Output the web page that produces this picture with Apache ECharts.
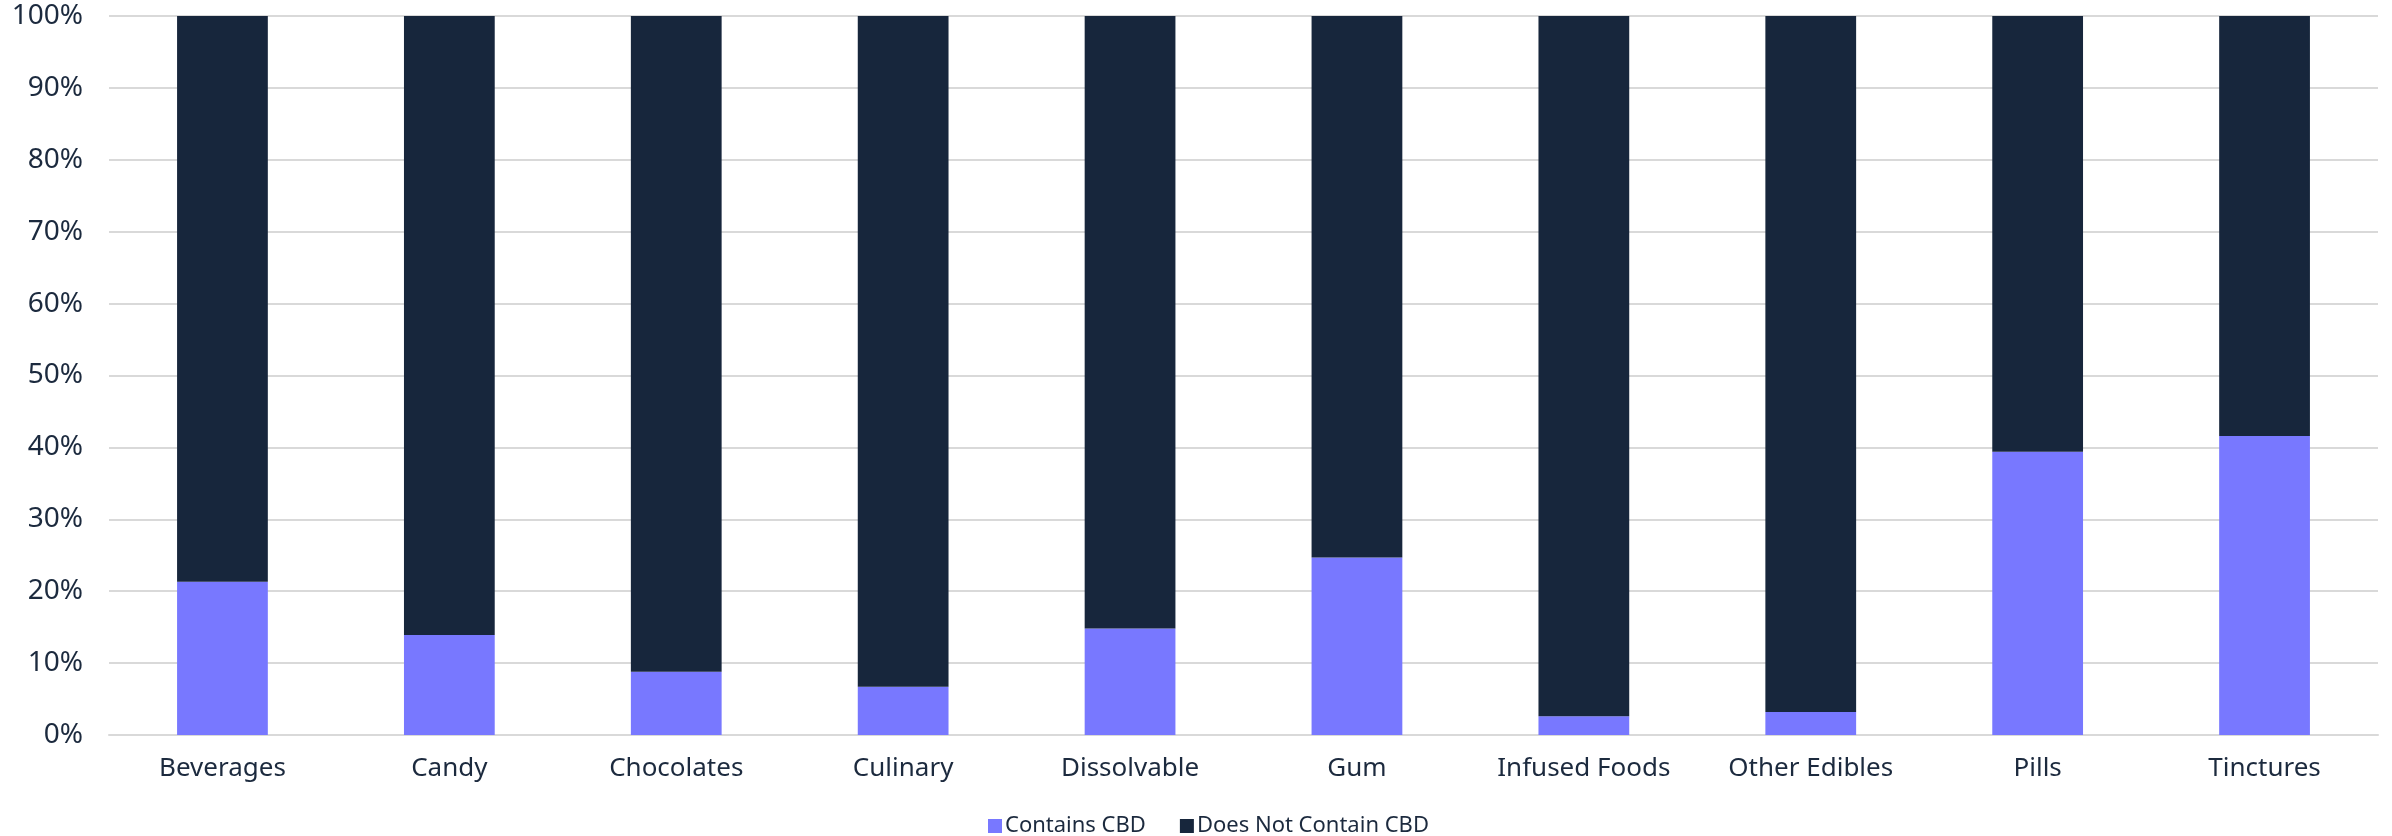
<!DOCTYPE html>
<html>
<head>
<meta charset="utf-8">
<script src="https://cdn.jsdelivr.net/npm/echarts@6/dist/echarts.min.js"></script>
<style>
html,body{margin:0;padding:0;background:#fff;}
#chart{width:2392px;height:836px;}
</style>
</head>
<body>
<div id="chart"></div>
<script>
const categories = ["Beverages","Candy","Chocolates","Culinary","Dissolvable","Gum","Infused Foods","Other Edibles","Pills","Tinctures"];
const containsCBD = [21.3, 13.9, 8.8, 6.7, 14.8, 24.7, 2.6, 3.2, 39.4, 41.6];
const doesNotContainCBD = [78.7, 86.1, 91.2, 93.3, 85.2, 75.3, 97.4, 96.8, 60.6, 58.4];
const seriesNames = ["Contains CBD", "Does Not Contain CBD"];

const font = "Noto Sans";
const textColor = "#1c2a3e";
const chart = echarts.init(document.getElementById('chart'), null, {renderer:'canvas'});
chart.setOption({
  animation: false,
  color: ["#7878ff", "#17263c"],
  grid: {left: 109, right: 14, top: 16, bottom: 101, containLabel: false},
  legend: {
    top: 815, left: 988, padding: 0,
    itemWidth: 14, itemHeight: 14, itemGap: 34,
    icon: 'rect',
    textStyle: {fontFamily: font, fontSize: 22, color: textColor, padding: [0,0,0,-2]},
    data: seriesNames
  },
  xAxis: {
    type: 'category', data: categories,
    axisLine: {show: true, lineStyle: {color: '#d9d9d9', width: 2}},
    axisTick: {show: false},
    axisLabel: {interval: 0, hideOverlap: false, fontFamily: font, fontSize: 26, color: textColor, margin: 21}
  },
  yAxis: {
    type: 'value', min: 0, max: 100, interval: 10,
    axisLine: {show: false}, axisTick: {show: false},
    splitLine: {lineStyle: {color: '#d9d9d9', width: 2}},
    axisLabel: {fontFamily: font, fontSize: 28, color: textColor, margin: 26, formatter: '{value}%'}
  },
  series: [
    {name: seriesNames[0], type: 'bar', stack: 'total', data: containsCBD, barCategoryGap: '60%'},
    {name: seriesNames[1], type: 'bar', stack: 'total', data: doesNotContainCBD, barCategoryGap: '60%'}
  ]
});
</script>
</body>
</html>
